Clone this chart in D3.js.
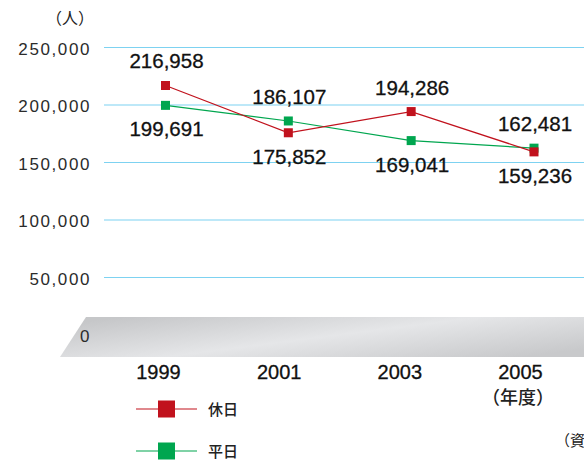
<!DOCTYPE html>
<html>
<head>
<meta charset="utf-8">
<script src="https://cdn.jsdelivr.net/npm/d3@7"></script>
<style>
  body { margin: 0; background: #fff; }
  svg { display: block; }
  text { font-family: "Liberation Sans", Arial, sans-serif; }
  .jp { font-family: "Noto Sans CJK JP", "Noto Sans", sans-serif; }
</style>
</head>
<body>
<div id="viz-container"></div>
<script>
// values
const years = ["1999", "2001", "2003", "2005"];
const holiday = [216958, 175852, 194286, 159236];   // 休日
const weekday = [199691, 186107, 169041, 162481];   // 平日
const yTicks = [0, 50000, 100000, 150000, 200000, 250000];
const seriesNames = ["休日", "平日"];

const drawChart = () => {
    const width = 584;
    const height = 462;

    const svg = d3.select("#viz-container")
        .append("svg")
        .attr("width", width)
        .attr("height", height)
        .attr("viewBox", [0, 0, width, height]);

    const y = d3.scaleLinear().domain([0, 250000]).range([335, 47.5]);
    const x = d3.scalePoint().domain(years).range([165.5, 534]);
    // year labels sit a bit left of the markers in the original
    const xLabel = d3.scalePoint().domain(years).range([158.5, 520.5]);

    const red = "#c1121d";
    const green = "#00a64f";
    const fmt = d3.format(",");

    // grey slanted band behind the zero line
    const defs = svg.append("defs");
    const grad = defs.append("linearGradient")
        .attr("id", "band")
        .attr("x1", "0").attr("y1", "0.2")
        .attr("x2", "1").attr("y2", "0.8");
    grad.append("stop").attr("offset", "0").attr("stop-color", "#c6c7c9");
    grad.append("stop").attr("offset", "0.5").attr("stop-color", "#e5e6e8");
    grad.append("stop").attr("offset", "1").attr("stop-color", "#c8c9cb");

    const bandTop = y(0) - 18, bandBot = y(0) + 22;
    svg.append("path")
        .attr("d", `M86,${bandTop}L${width},${bandTop}L${width},${bandBot}L60,${bandBot}Z`)
        .attr("fill", "url(#band)");

    // grid lines
    svg.append("g")
        .selectAll("line")
        .data(yTicks.filter(d => d > 0))
        .join("line")
        .attr("x1", 104).attr("x2", width)
        .attr("y1", d => y(d)).attr("y2", d => y(d))
        .attr("stroke", "#7dd2f1")
        .attr("stroke-width", 1.2);

    // y tick labels
    svg.append("g")
        .selectAll("text")
        .data(yTicks)
        .join("text")
        .attr("x", 91)
        .attr("y", d => y(d) + 7)
        .attr("text-anchor", "end")
        .attr("font-size", 17)
        .attr("letter-spacing", 1.6)
        .attr("fill", "#2b2b2b")
        .text(d => fmt(d));

    svg.append("text")
        .attr("class", "jp")
        .attr("x", 70).attr("y", 24)
        .attr("text-anchor", "middle")
        .attr("font-size", 16)
        .attr("fill", "#222")
        .text("（人）");

    // x labels
    svg.append("g")
        .selectAll("text")
        .data(years)
        .join("text")
        .attr("x", d => xLabel(d))
        .attr("y", 379)
        .attr("text-anchor", "middle")
        .attr("font-size", 20)
        .attr("fill", "#111")
        .attr("stroke", "#111")
        .attr("stroke-width", 0.3)
        .text(d => d);

    svg.append("text")
        .attr("class", "jp")
        .attr("x", 518).attr("y", 404)
        .attr("text-anchor", "middle")
        .attr("font-size", 18)
        .attr("font-weight", 500)
        .attr("fill", "#222")
        .text("（年度）");

    // lines + markers (red drawn last so it sits on top)
    const series = [
        { name: seriesNames[1], values: weekday, color: green },
        { name: seriesNames[0], values: holiday, color: red }
    ];
    const line = d3.line()
        .x((d, i) => x(years[i]))
        .y(d => y(d));

    const ms = 9;
    series.forEach(s => {
        svg.append("path")
            .attr("d", line(s.values))
            .attr("fill", "none")
            .attr("stroke", s.color)
            .attr("stroke-width", 1.2);
        svg.append("g")
            .selectAll("rect")
            .data(s.values)
            .join("rect")
            .attr("x", (d, i) => x(years[i]) - ms / 2)
            .attr("y", d => y(d) - ms / 2)
            .attr("width", ms)
            .attr("height", ms)
            .attr("fill", s.color);
    });

    // value labels: higher value above, lower value below
    const labels = [];
    years.forEach((yr, i) => {
        const a = holiday[i], b = weekday[i];
        labels.push({ yr: yr, v: Math.max(a, b), above: true });
        labels.push({ yr: yr, v: Math.min(a, b), above: false });
    });
    svg.append("g")
        .selectAll("text")
        .data(labels)
        .join("text")
        .attr("x", d => x(d.yr) + 1)
        .attr("y", d => d.above ? y(d.v) - 17 : y(d.v) + 31)
        .attr("text-anchor", "middle")
        .attr("font-size", 20.5)
        .attr("fill", "#111")
        .attr("stroke", "#111")
        .attr("stroke-width", 0.3)
        .text(d => fmt(d.v));

    // legend
    const legend = svg.append("g")
        .selectAll("g")
        .data([{ name: seriesNames[0], color: red, cy: 409 },
               { name: seriesNames[1], color: green, cy: 451 }])
        .join("g");
    legend.append("line")
        .attr("x1", 136).attr("x2", 197)
        .attr("y1", d => d.cy).attr("y2", d => d.cy)
        .attr("stroke", d => d.color)
        .attr("stroke-width", 1.2);
    legend.append("rect")
        .attr("x", 158).attr("y", d => d.cy - 8.5)
        .attr("width", 17).attr("height", 17)
        .attr("fill", d => d.color);
    legend.append("text")
        .attr("class", "jp")
        .attr("x", 208).attr("y", d => d.cy + 5.5)
        .attr("font-size", 15)
        .attr("font-weight", 500)
        .attr("fill", "#222")
        .text(d => d.name);

    // source note, cut off by the right edge as in the original
    svg.append("text")
        .attr("class", "jp")
        .attr("x", 555).attr("y", 446)
        .attr("font-size", 15)
        .attr("fill", "#222")
        .text("（資料）");
};

drawChart();
</script>
</body>
</html>
